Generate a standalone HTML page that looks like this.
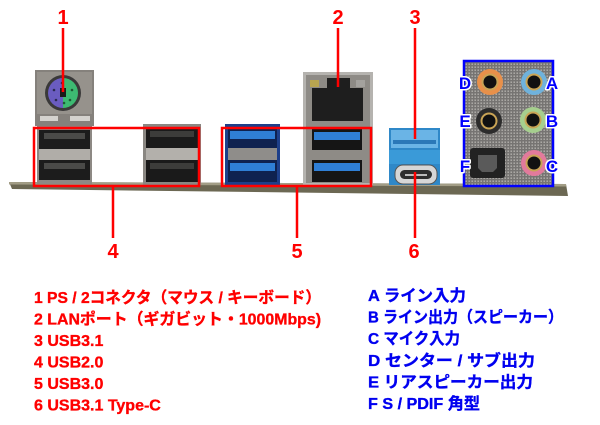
<!DOCTYPE html>
<html><head><meta charset="utf-8">
<style>
html,body{margin:0;padding:0;background:#fff;}
svg{display:block;}
text{font-family:"Liberation Sans","Noto Sans CJK JP",sans-serif;font-weight:bold;}
</style></head><body>
<svg width="600" height="425" viewBox="0 0 600 425" xmlns="http://www.w3.org/2000/svg">
<defs>
<pattern id="dots" width="3" height="3" patternUnits="userSpaceOnUse">
<rect width="3" height="3" fill="#767472"/>
<rect x="0.5" y="0.5" width="1.4" height="1.4" fill="#b6b4b0"/>
</pattern>
</defs>

<!-- ledge -->
<polygon points="9,182 566,184 568,196 12,189" fill="#6c6853"/>
<polygon points="9,182 566,184 566,186.5 9,184.5" fill="#a29d86"/>

<!-- PS/2 -->
<rect x="35" y="70" width="59" height="56" fill="#85817c"/>
<rect x="37" y="72" width="55" height="42" fill="#96928c"/>
<circle cx="63" cy="93" r="18" fill="#3a3939"/>
<path d="M63,78 A15,15 0 0 0 63,108 Z" fill="#6a5cc0"/>
<path d="M63,78 A15,15 0 0 1 63,108 Z" fill="#3dba72"/>
<rect x="60" y="88" width="6" height="9" fill="#1a1a1a"/>
<g fill="#2a2a50"><circle cx="54" cy="90" r="1.3"/><circle cx="56" cy="100" r="1.3"/><circle cx="62" cy="83" r="1.3"/></g>
<g fill="#1d5a34"><circle cx="72" cy="90" r="1.3"/><circle cx="70" cy="100" r="1.3"/><circle cx="64" cy="103" r="1.3"/></g>
<rect x="40" y="116" width="18" height="5" fill="#d4d2ce"/>
<rect x="70" y="116" width="20" height="5" fill="#d4d2ce"/>

<!-- USB2 stack 1 -->
<rect x="37" y="126" width="55" height="58" fill="#8d8984"/>
<rect x="39" y="130" width="51" height="19" fill="#1c1c1c"/>
<rect x="44" y="133" width="41" height="6" fill="#4a4a48"/>
<rect x="39" y="149" width="51" height="11" fill="#b0ada8"/>
<rect x="39" y="160" width="51" height="20" fill="#1c1c1c"/>
<rect x="44" y="163" width="41" height="6" fill="#4a4a48"/>

<!-- USB2 stack 2 -->
<rect x="143" y="124" width="58" height="61" fill="#8a8782"/>
<rect x="146" y="128" width="52" height="20" fill="#1a1a1a"/>
<rect x="150" y="131" width="44" height="6" fill="#3c3c3a"/>
<rect x="146" y="148" width="52" height="12" fill="#b3b0ab"/>
<rect x="146" y="160" width="52" height="22" fill="#1a1a1a"/>
<rect x="150" y="163" width="44" height="6" fill="#3c3c3a"/>

<!-- USB3 blue stack -->
<rect x="225" y="124" width="55" height="61" fill="#1d3f8a"/>
<rect x="228" y="128" width="49" height="20" fill="#0f2250"/>
<rect x="230" y="131" width="45" height="8" fill="#2f7fd6"/>
<rect x="228" y="148" width="49" height="12" fill="#8f8d8a"/>
<rect x="228" y="160" width="49" height="22" fill="#0f2250"/>
<rect x="230" y="163" width="45" height="8" fill="#2f7fd6"/>

<!-- LAN + USB3 stack -->
<rect x="303" y="72" width="70" height="113" fill="#b5b3af"/>
<rect x="306" y="75" width="64" height="108" fill="#8e8b86"/>
<rect x="312" y="88" width="51" height="33" fill="#1e1e1e"/>
<rect x="327" y="78" width="23" height="11" fill="#1e1e1e"/>
<rect x="310" y="80" width="9" height="7" fill="#b8a550"/>
<rect x="356" y="80" width="9" height="7" fill="#a4a29e"/>
<rect x="312" y="129" width="50" height="21" fill="#151515"/>
<rect x="314" y="132" width="46" height="8" fill="#2f7fd6"/>
<rect x="312" y="160" width="50" height="22" fill="#151515"/>
<rect x="314" y="163" width="46" height="8" fill="#2f7fd6"/>

<!-- USB3.1 stack -->
<rect x="389" y="128" width="51" height="57" fill="#2f88c8"/>
<rect x="391" y="130" width="47" height="18" fill="#6ab4e6"/>
<rect x="393" y="140" width="43" height="4" fill="#2b78b8"/>
<rect x="389" y="150" width="51" height="14" fill="#3a9ad8"/>
<rect x="395" y="165" width="42" height="19" rx="8" fill="#d6d6d6" stroke="#555" stroke-width="1"/>
<rect x="400" y="170" width="32" height="9" rx="4.5" fill="#2e2e2e"/>
<rect x="405" y="174" width="22" height="2" fill="#bbb"/>

<!-- Audio panel -->
<rect x="465" y="61" width="88" height="125" fill="url(#dots)"/>
<g>
<circle cx="490" cy="82" r="13" fill="#e8904a"/><circle cx="490" cy="82" r="8.5" fill="#c9a455"/><circle cx="490" cy="82" r="6.5" fill="#111"/>
<circle cx="534" cy="82" r="13" fill="#6fb2dc"/><circle cx="534" cy="82" r="8.5" fill="#c9a455"/><circle cx="534" cy="82" r="6.5" fill="#111"/>
<circle cx="489" cy="121" r="13" fill="#2c2c2c"/><circle cx="489" cy="121" r="8.5" fill="#c9a455"/><circle cx="489" cy="121" r="6.5" fill="#111"/>
<circle cx="533" cy="120" r="13" fill="#a6cf8e"/><circle cx="533" cy="120" r="8.5" fill="#c9a455"/><circle cx="533" cy="120" r="6.5" fill="#111"/>
<circle cx="534" cy="163" r="13" fill="#e27a9c"/><circle cx="534" cy="163" r="8.5" fill="#c9a455"/><circle cx="534" cy="163" r="6.5" fill="#111"/>
<rect x="470" y="148" width="35" height="30" rx="3" fill="#222"/>
<path d="M478,155 h19 v13 l-4,4 h-11 l-4,-4 z" fill="#5a5a5a"/>
</g>

<!-- boxes -->
<rect x="34" y="128" width="165" height="58" fill="none" stroke="#ff0000" stroke-width="2.5"/>
<rect x="222" y="128" width="149" height="58" fill="none" stroke="#ff0000" stroke-width="2.5"/>
<rect x="464" y="61" width="89" height="125" fill="none" stroke="#0000ff" stroke-width="2.5"/>

<!-- leader lines -->
<g stroke="#ff0000" stroke-width="2.5">
<line x1="63" y1="28" x2="63" y2="92"/>
<line x1="338" y1="28" x2="338" y2="87"/>
<line x1="415" y1="28" x2="415" y2="139"/>
<line x1="113" y1="186" x2="113" y2="238"/>
<line x1="297" y1="186" x2="297" y2="238"/>
<line x1="415" y1="172" x2="415" y2="238"/>
</g>

<!-- number labels -->
<g fill="#ff0000" font-size="20" text-anchor="middle">
<text x="63" y="24">1</text>
<text x="338" y="24">2</text>
<text x="415" y="24">3</text>
<text x="113" y="258">4</text>
<text x="297" y="258">5</text>
<text x="414" y="258">6</text>
</g>

<!-- letter labels -->
<g fill="#0000ff" font-size="17" text-anchor="middle" stroke="#fff" stroke-width="3" paint-order="stroke" stroke-linejoin="round">
<text x="465" y="89">D</text>
<text x="465" y="127">E</text>
<text x="465" y="172">F</text>
<text x="552" y="89">A</text>
<text x="552" y="127">B</text>
<text x="552" y="172">C</text>
</g>

<!-- legend left -->
<g fill="#ff0000" font-size="16" stroke="#ff0000" stroke-width="0.35">
<text x="34" y="303" textLength="287" lengthAdjust="spacingAndGlyphs">1 PS / 2コネクタ（マウス / キーボード）</text>
<text x="34" y="324.5" textLength="287" lengthAdjust="spacingAndGlyphs">2 LANポート（ギガビット・1000Mbps)</text>
<text x="34" y="346">3 USB3.1</text>
<text x="34" y="367.5">4 USB2.0</text>
<text x="34" y="389">5 USB3.0</text>
<text x="34" y="410.5">6 USB3.1 Type-C</text>
</g>

<!-- legend right -->
<g fill="#0000f0" font-size="16" stroke="#0000f0" stroke-width="0.35">
<text x="368" y="301" textLength="98" lengthAdjust="spacingAndGlyphs">A ライン入力</text>
<text x="368" y="322.6" textLength="195" lengthAdjust="spacingAndGlyphs">B ライン出力（スピーカー）</text>
<text x="368" y="344.2" textLength="92" lengthAdjust="spacingAndGlyphs">C マイク入力</text>
<text x="368" y="365.8" textLength="167" lengthAdjust="spacingAndGlyphs">D センター / サブ出力</text>
<text x="368" y="387.4" textLength="165" lengthAdjust="spacingAndGlyphs">E リアスピーカー出力</text>
<text x="368" y="409" textLength="112" lengthAdjust="spacingAndGlyphs">F S / PDIF 角型</text>
</g>
</svg>
</body></html>
